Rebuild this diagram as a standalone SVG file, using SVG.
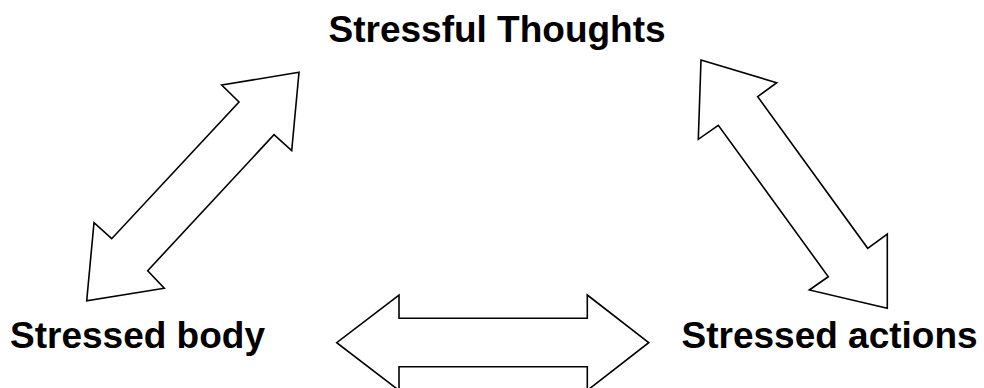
<svg xmlns="http://www.w3.org/2000/svg" width="984" height="388" viewBox="0 0 984 388">
<style>
.lbl{font-family:"Liberation Sans",Arial,sans-serif;font-weight:bold;font-size:37px;fill:#000}
.arr{fill:#fff;stroke:#000;stroke-width:1.6;stroke-linejoin:miter}
</style>
<rect width="984" height="388" fill="#fff"/>
<g id="connectors">
<polygon class="arr" points="299,72.3 221.7,85 239,102 111.7,238.7 94,222.7 86.7,300.7 164.3,288.3 147.7,270.7 274,134.7 291.7,150.7"/>
<polygon class="arr" points="701,60 776.7,82.7 757.7,96.7 867.7,248.3 887.3,234 887.3,308.3 809.3,290 828.3,276.7 718.3,125.3 698.3,139.3"/>
<polygon class="arr" points="648.7,342.7 587.3,295 587.3,318.3 399,318.3 399,295 336.7,342.7 399,390.4 399,366.7 587.3,366.7 587.3,390.4"/>
</g>
<g id="thoughts"><text class="lbl" x="328.5" y="42.3">Stressful Thoughts</text></g>
<g id="body"><text class="lbl" x="10" y="347.7">Stressed body</text></g>
<g id="actions"><text class="lbl" x="681.5" y="347.7">Stressed actions</text></g>
</svg>
